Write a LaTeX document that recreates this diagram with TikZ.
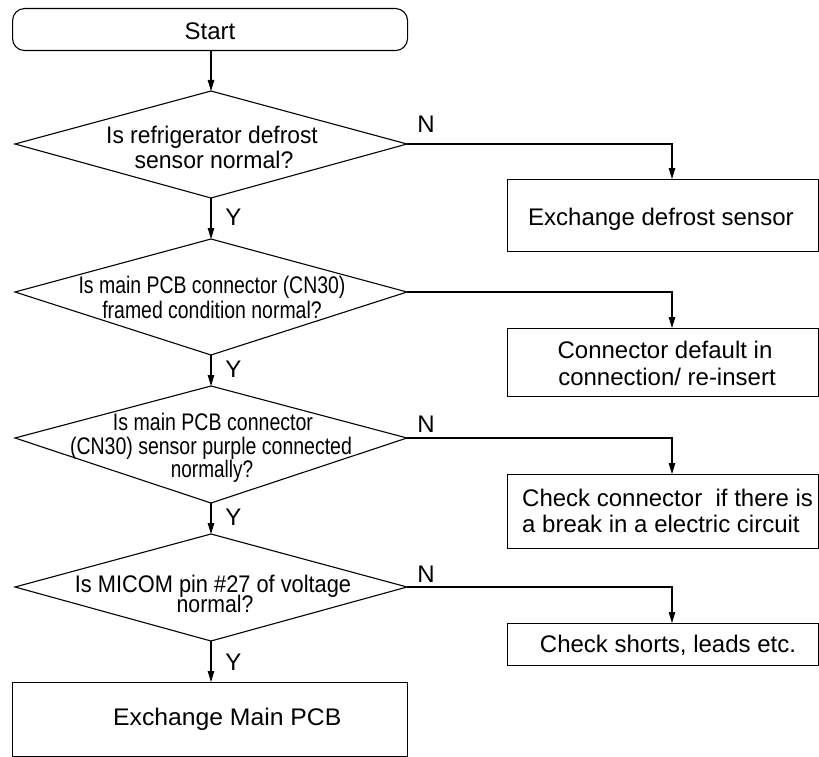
\documentclass[tikz,border=0pt]{standalone}
\usepackage{fontspec}
\setmainfont{Liberation Sans}
\usepackage{graphicx}
\usetikzlibrary{arrows.meta}
\begin{document}
\begin{tikzpicture}[x=1pt,y=-1pt,
  line/.style={line width=1.1pt, draw=black},
  arr/.style={line, -{Triangle[length=11pt,width=6.5pt]}},
  lbl/.style={anchor=base, inner sep=0pt, font=\fontsize{24}{25}\selectfont},
  lblw/.style={lbl, anchor=base west},
  boxnode/.style={draw, line width=1.1pt, rectangle, inner sep=0pt, anchor=north west, minimum width=311pt},
  diam/.style={line, line join=miter}]
\useasboundingbox (0,0) rectangle (819,757);
% start
\node[boxnode, rounded corners=12pt, minimum width=395pt, minimum height=42pt] (start) at (12,8) {};
\node[lbl] (starttxt) at (210,40) {Start};
% diamonds
\coordinate (d1t) at (211,91);  \coordinate (d1l) at (15,144);  \coordinate (d1r) at (407,144);  \coordinate (d1b) at (211,198);
\coordinate (d2t) at (211,239); \coordinate (d2l) at (15,292);  \coordinate (d2r) at (407,292);  \coordinate (d2b) at (211,355);
\coordinate (d3t) at (211,386); \coordinate (d3l) at (15,438);  \coordinate (d3r) at (407,438);  \coordinate (d3b) at (211,503);
\coordinate (d4t) at (211,534); \coordinate (d4l) at (15,587);  \coordinate (d4r) at (407,587);  \coordinate (d4b) at (211,641);
\draw[diam] (d1t) -- (d1r) -- (d1b) -- (d1l) -- cycle;
\draw[diam] (d2t) -- (d2r) -- (d2b) -- (d2l) -- cycle;
\draw[diam] (d3t) -- (d3r) -- (d3b) -- (d3l) -- cycle;
\draw[diam] (d4t) -- (d4r) -- (d4b) -- (d4l) -- cycle;
% diamond texts
\node[lbl] (q1a) at (212,143) {\scalebox{0.95}[1]{Is refrigerator defrost}};
\node[lbl] (q1b) at (214,168) {\scalebox{0.96}[1]{sensor normal?}};
\node[lbl] (q2a) at (212,293) {\scalebox{0.81}[1]{Is main PCB connector (CN30)}};
\node[lbl] (q2b) at (212,318) {\scalebox{0.81}[1]{framed condition normal?}};
\node[lbl] (q3a) at (213,430) {\scalebox{0.815}[1]{Is main PCB connector}};
\node[lbl] (q3b) at (211,454) {\scalebox{0.813}[1]{(CN30) sensor purple connected}};
\node[lbl] (q3c) at (212,477) {\scalebox{0.79}[1]{normally?}};
\node[lbl] (q4a) at (213,592) {\scalebox{0.908}[1]{Is MICOM pin \#27 of voltage}};
\node[lbl] (q4b) at (215,612) {\scalebox{0.885}[1]{normal?}};
% boxes
\node[boxnode, minimum height=72pt] (box1) at (507,179) {};
\node[boxnode, minimum height=68pt] (box2) at (507,328) {};
\node[boxnode, minimum height=74pt] (box3) at (507,474) {};
\node[boxnode, minimum height=42pt] (box4) at (507,623) {};
\node[boxnode, minimum width=395pt, minimum height=74pt] (mainbox) at (12,682) {};
\node[lblw] (t1) at (528,225) {Exchange defrost sensor};
\node[lbl] (t2a) at (665,358) {Connector default in};
\node[lbl] (t2b) at (667,385) {connection/ re-insert};
\node[lblw] (t3a) at (522,506) {Check connector\ \ if there is};
\node[lblw] (t3b) at (522,532) {a break in a electric circuit};
\node[lbl] (t4) at (668,652) {Check shorts, leads etc.};
\node[lblw] (tm) at (113,725) {\scalebox{1.03}[1]{Exchange Main PCB}};
% column coordinate for the N branches
\coordinate (col) at (672,0);
% vertical arrows
\draw[arr] (d1t |- start.south) -- (d1t);
\draw[arr] (d1b) -- (d2t);
\draw[arr] (d2b) -- (d3t);
\draw[arr] (d3b) -- (d4t);
\draw[arr] (d4b) -- (d4b |- mainbox.north);
% branch arrows
\draw[arr] (d1r) -| (col |- box1.north);
\draw[arr] (d2r) -| (col |- box2.north);
\draw[arr] (d3r) -| (col |- box3.north);
\draw[arr] (d4r) -| (col |- box4.north);
% labels
\node[lbl] (n1) at (426,133) {N};
\node[lbl] (n3) at (426,432) {N};
\node[lbl] (n4) at (426,582) {N};
\node[lbl] (y1) at (233.5,225) {Y};
\node[lbl] (y2) at (233.5,377) {Y};
\node[lbl] (y3) at (233.5,525) {Y};
\node[lbl] (y4) at (233.5,670) {Y};
\end{tikzpicture}
\end{document}
